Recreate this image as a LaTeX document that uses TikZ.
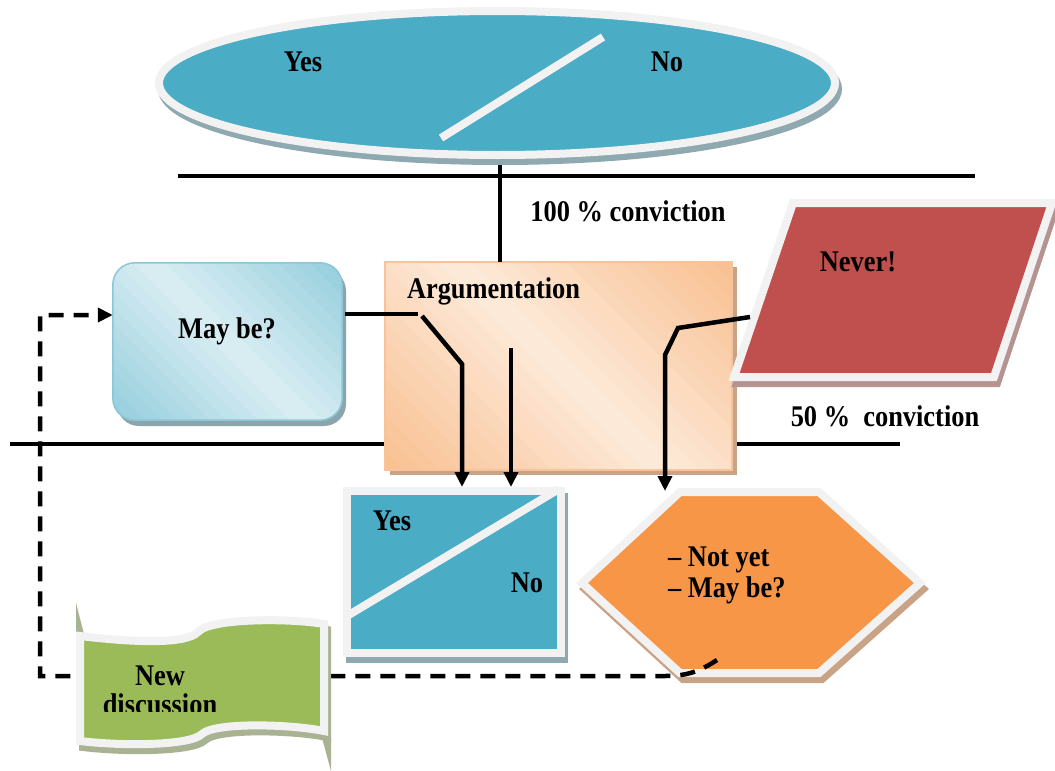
\documentclass[tikz,border=0pt]{standalone}
\usepackage{fontspec}
\setmainfont{Liberation Serif}[FakeStretch=0.88]
\usetikzlibrary{arrows.meta,positioning,calc,shapes.geometric,shadows}
\definecolor{ink}{HTML}{000000}
\definecolor{rim}{HTML}{F2F2F2}
\definecolor{lagoon}{HTML}{4BACC6}
\definecolor{lagoonshade}{HTML}{8EA9B0}
\definecolor{peach}{HTML}{FDEADA}
\definecolor{apricot}{HTML}{F9BF8F}
\definecolor{apricotedge}{HTML}{F8C39B}
\definecolor{apricotshade}{HTML}{C9A386}
\definecolor{ice}{HTML}{DAEEF3}
\definecolor{sky}{HTML}{93CDDD}
\definecolor{skyedge}{HTML}{8DC6D6}
\definecolor{skyshade}{HTML}{8CA4AB}
\definecolor{brick}{HTML}{C0504D}
\definecolor{brickshade}{HTML}{B49391}
\definecolor{tangerine}{HTML}{F79646}
\definecolor{tangerineshade}{HTML}{C9A385}
\definecolor{olive}{HTML}{9BBB59}
\definecolor{oliveshade}{HTML}{A9B394}

\begin{document}
\begin{tikzpicture}[
  x=1pt, y=-1pt,
  font=\bfseries\fontsize{30}{31}\selectfont,
  >={Triangle[length=15pt,width=14pt]},
  link/.style={draw=ink, line width=4.5pt},
  flow/.style={->, link},
  feedback/.style={->, link, dash pattern=on 15pt off 10pt},
  rimmed/.style={draw=rim, line width=8pt},
  lift/.style={drop shadow={shadow xshift=3pt, shadow yshift=-6pt,
               fill=#1, draw=#1, line width=8pt, opacity=1}},
  slash/.style={draw=rim, line width=8pt},
  word/.style={inner sep=0pt, align=center},
  panel/.style={line width=1.5pt}
]
\useasboundingbox (0,0) rectangle (1055,771);

% Votación inicial.
\node[shape=ellipse, minimum width=676pt, minimum height=144pt, inner sep=0pt,
      rimmed, fill=lagoon, lift=lagoonshade] (vote) at (497,83) {};
\draw[slash] ($(vote.center)+(-56,55)$) -- ($(vote.center)+(106,-46)$);
\node[word] (voteyes) at (303,62) {Yes};
\node[word] (voteno) at (667,62) {No};

% Umbrales de convicción.
\draw[link] (178,176) -- (975,176);
\draw[link] (10,444) -- (900,444);
\node[word] (full) at (628,211) {100 \% conviction};
\node[word] (half) at (885,416) {50 \%\ \ conviction};

% Argumentación, degradado en bandas diagonales.
\node[fill=apricotshade, minimum width=347pt, minimum height=208pt]
      (argshadow) at (563.5,371) {};
\node[minimum width=347pt, minimum height=208pt] (arg) at (558.5,366) {};
\begin{scope}
  \clip (arg.south west) rectangle (arg.north east);
  \foreach \k in {0,...,29}{
    \pgfmathsetmacro{\ca}{-277.5+18.5*\k}
    \pgfmathtruncatemacro{\mix}{abs(\ca+9.25)/277.5*100}
    \fill[apricot!\mix!peach, shift={(arg.center)}]
      (\ca-210,-210) -- (\ca+210,210) -- (\ca+231,210) -- (\ca-189,-210) -- cycle;
  }
\end{scope}
\draw[panel, apricotedge] (arg.south west) rectangle (arg.north east);
\node[word, anchor=west] (argtitle) at ($(arg.north west)+(22,30)$) {Argumentation};

\node[fill=skyshade, rounded corners=22pt, minimum width=229pt, minimum height=157pt]
      (maybeshadow) at (231.5,347.5) {};
\node[minimum width=229pt, minimum height=157pt] (maybe) at (227.5,341.5) {};
\begin{scope}
  \clip[rounded corners=22pt] (maybe.south west) rectangle (maybe.north east);
  \foreach \k in {0,...,23}{
    \pgfmathsetmacro{\ca}{-193+16.1*\k}
    \pgfmathtruncatemacro{\mix}{abs(\ca+8.05)/193*100}
    \fill[sky!\mix!ice, shift={(maybe.center)}]
      (\ca-150,-150) -- (\ca+150,150) -- (\ca+168.5,150) -- (\ca-131.5,-150) -- cycle;
  }
\end{scope}
\draw[panel, skyedge, rounded corners=22pt] (maybe.south west) rectangle (maybe.north east);
\node[word] (maybetext) at (227,331) {May be?};

\path[rimmed, fill=brick, lift=brickshade]
  (793,203) -- (1052,203) -- (994,377) -- (734,377) -- cycle;
\node[word] (never) at (858,262) {Never!};

% Resultados.
\node[rimmed, fill=lagoon, lift=lagoonshade, minimum width=214pt,
      minimum height=162pt, inner sep=0pt] (yesno) at (454,572) {};
\draw[slash] ($(yesno.south west)+(4,-41)$) -- ($(yesno.north east)+(-6,2)$);
\node[word] (boxyes) at (392,521) {Yes};
\node[word] (boxno) at (527,583) {No};

\path[rimmed, fill=tangerine, lift=tangerineshade]
  (582,583) -- (680,492) -- (819,492) -- (920,583) -- (819,673) -- (680,673) -- cycle;
\node[word, align=left, anchor=west] (pending) at (668,575) {-- Not yet\\-- May be?};

% Conectores.
\coordinate (stem) at ([xshift=3pt,yshift=-6pt]vote.south);
\draw[link] (stem) -- (stem |- arg.north);
\coordinate (splitL) at (418,314);
\draw[link] ([xshift=3pt]maybe.east |- splitL) -- (splitL);
\coordinate (forkA) at (422,316);
\coordinate (bendA) at (462,364);
\draw[flow] (forkA) -- (bendA) -- (bendA |- yesno.north);
\coordinate (forkB) at (511,348);
\draw[flow] (forkB) -- (forkB |- yesno.north);
\coordinate (neverfoot) at (750,317);
\coordinate (bendC) at (678,328);
\coordinate (bendD) at (665,355);
\coordinate (hextop) at (665,491);
\draw[flow] (neverfoot) -- (bendC) -- (bendD) -- (hextop);

\coordinate (retour) at (717,660);
\coordinate (loopin) at (40,315);
\draw[feedback] (retour) .. controls (700,671) and (688,676) .. (665,676)
  -- (40,676) -- (loopin) -- (loopin -| maybe.west);

% Nueva discusión.
\fill[oliveshade] (76,603) -- (84,634) -- (76,634) -- cycle;
\fill[oliveshade] (322,738) -- (331,738) -- (331,771) -- cycle;
\path[rimmed, fill=olive, lift=oliveshade]
  (80,636) .. controls (130,642) and (185,645) .. (198,632)
  .. controls (210,618) and (290,618) .. (324,624) -- (324,731)
  .. controls (290,724) and (215,722) .. (202,734)
  .. controls (190,746) and (120,746) .. (80,741) -- cycle;
\begin{scope}
  \clip (60,600) rectangle (340,711);
  \node[word, font=\bfseries\fontsize{30}{29}\selectfont] (newtalk) at (160,690) {New\\discussion};
\end{scope}

\end{tikzpicture}
\end{document}
